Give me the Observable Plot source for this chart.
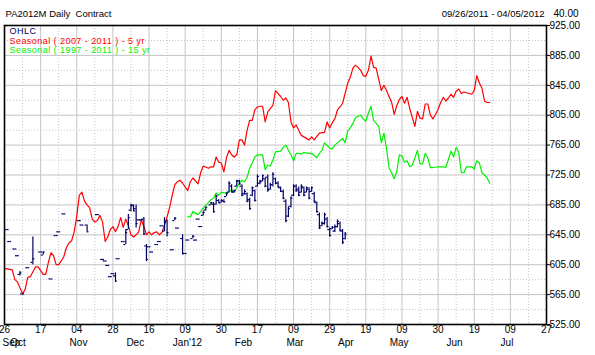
<!DOCTYPE html>
<html><head><meta charset="utf-8">
<script src="https://cdn.jsdelivr.net/npm/d3@7"></script>
<script src="https://cdn.jsdelivr.net/npm/@observablehq/plot@0.6"></script>
<style>
html,body{margin:0;padding:0;background:#fff;}
svg text{white-space:pre;}
</style>
</head><body><div id="chart"></div>
<script>
// ---- texts ----
const title = "PA2012M Daily  Contract";
const dateRange = "09/26/2011 - 04/05/2012";
const gridStepLabel = "40.00";
const legendLabels = ["OHLC", "Seasonal ( 2007 - 2011 ) - 5 yr", "Seasonal ( 1997 - 2011 ) - 15 yr"];

// ---- axes ----
const yTicks = [525, 565, 605, 645, 685, 725, 765, 805, 845, 885, 925];
const tickDays = [0, 14, 28, 42, 56, 70, 84, 98, 112, 126, 140, 154, 168, 182, 196, 210];
const tickLabels = ["26","17","04","28","16","09","30","17","09","29","19","09","30","19","09","27"];
const monthDays = [0, 3, 26, 48, 66, 90, 110, 130, 150, 172, 193];
const monthNames = ["Sep","Oct","Nov","Dec","Jan'12","Feb","Mar","Apr","May","Jun","Jul"];

// ---- series: [trading day index, value] ----
const seas5 = [[0,600],[3,598],[4,585],[5,582],[6,574],[7,566],[8,572],[9,588],[10,589],[12,602],[13,602],[14,597],[15,592],[16,592],[17,608],[18,621],[19,617],[20,605],[21,605],[22,610],[23,616],[24,628],[25,634],[26,637],[27,649],[28,670],[29,698],[30,702],[31,690],[32,685],[33,681],[34,666],[35,662],[36,664],[37,671],[38,662],[39,636],[40,642],[41,652],[42,656],[43,649],[44,656],[45,668],[46,655],[47,666],[48,657],[49,645],[50,642],[51,645],[52,649],[53,665],[54,656],[55,645],[56,649],[57,645],[58,648],[59,649],[60,645],[61,648],[62,658],[63,669],[64,682],[65,698],[66,712],[67,716],[68,718],[69,714],[71,704],[72,716],[73,721],[75,713],[76,728],[77,737],[79,734],[80,736],[81,736],[82,749],[83,742],[84,741],[85,729],[86,748],[87,758],[88,752],[89,749],[90,752],[91,772],[92,772],[93,765],[94,785],[95,798],[96,798],[97,812],[98,816],[99,817],[100,817],[101,796],[102,809],[103,814],[104,818],[105,838],[106,834],[107,830],[108,825],[109,828],[110,822],[111,796],[112,788],[113,792],[114,785],[115,778],[116,776],[117,774],[118,772],[119,776],[120,772],[122,781],[124,782],[125,796],[126,788],[127,795],[128,800],[129,812],[130,816],[131,821],[133,848],[134,856],[135,868],[136,872],[137,869],[138,865],[139,858],[140,857],[141,865],[142,884],[143,869],[144,868],[146,838],[147,845],[148,838],[150,822],[151,806],[152,818],[153,826],[154,830],[155,821],[156,829],[157,814],[158,802],[159,790],[160,810],[161,801],[162,800],[163,820],[164,820],[165,805],[166,800],[167,806],[168,813],[169,822],[170,829],[171,824],[172,828],[173,833],[174,829],[175,837],[176,840],[177,834],[178,836],[180,834],[181,833],[182,838],[183,858],[184,848],[185,841],[186,824],[187,822],[188,822]];

const seas15 = [[71,669],[72,669],[73,676],[75,672],[76,676],[77,681],[79,688],[80,692],[81,694],[82,701],[83,698],[84,702],[85,701],[86,701],[88,705],[89,702],[90,708],[91,714],[92,718],[93,716],[94,722],[95,734],[96,741],[97,749],[98,752],[100,752],[101,732],[102,738],[103,737],[104,745],[105,756],[107,757],[108,762],[109,765],[110,758],[111,752],[112,744],[113,754],[114,754],[115,753],[116,755],[118,754],[119,754],[121,748],[122,754],[123,758],[124,768],[126,761],[127,760],[128,765],[129,768],[131,774],[132,768],[133,784],[134,788],[135,794],[136,802],[138,805],[139,800],[140,797],[141,808],[142,817],[143,798],[145,790],[146,768],[147,781],[148,761],[149,734],[150,728],[151,720],[152,730],[153,752],[154,750],[155,742],[156,744],[157,736],[158,738],[160,758],[161,740],[162,740],[163,754],[164,748],[165,735],[166,735],[168,736],[170,736],[171,735],[173,757],[174,749],[175,762],[176,755],[177,728],[178,728],[179,736],[181,736],[182,733],[183,744],[184,741],[185,728],[186,725],[187,721],[188,714]];

// ---- OHLC: [day, open, high, low, close] ----
const ohlc = [
[1,652,652,652,652],[2,636,636,636,636],[4,626,626,626,626],[5,617,617,617,617],[6,592,596,590,594],
[7,566,566,566,566],[9,601,601,601,601],[11,608,642,605,613],[14,622,622,622,622],[15,618,622,618,622],
[18,586,586,586,586],[20,644,644,644,644],[21,649,649,649,649],[23,673,673,673,673],[29,664,664,664,664],
[30,658,658,658,658],[32,658,658,649,649],[36,672,672,672,672],[38,612,612,612,612],[39,610,610,610,610],
[40,604,604,604,604],[41,589,589,589,589],[42,593,593,593,593],[43,590,594,582,583],[44,613,613,613,613],
[46,636,636,636,636],[47,632,652,632,648],[48,652,672,652,668],[49,678,686,676,685],[50,684,685,676,677],
[51,680,685,654,660],[52,665,665,665,665],[53,665,665,665,665],[54,666,668,644,646],[55,630,632,609,612],
[56,629,629,629,629],[57,622,622,622,622],[59,632,632,632,632],[60,636,636,636,636],[61,657,657,657,657],
[62,650,668,649,662],[63,663,665,642,648],[65,625,625,625,625],[66,664,668,664,667],[67,654,654,654,654],
[69,640,645,618,620],[70,620,620,620,620],[71,638,638,638,638],[73,640,644,640,643],[74,638,638,638,638],
[75,666,666,666,666],[76,656,656,656,656],[77,671,676,670,675],[78,678,682,677,682],
[80,685,688,685,688],[81,686,688,674,676],[82,686,698,685,697],[83,691,692,688,688],[84,688,692,688,691],
[85,690,692,688,689],[86,696,701,696,700],[87,702,716,701,714],[88,710,712,701,703],[89,702,705,701,704],
[90,710,718,709,717],[91,717,718,712,713],[92,710,712,696,698],[93,700,705,698,703],[94,700,701,688,690],
[95,692,694,678,680],[96,698,709,696,708],[97,704,705,689,691],[98,710,725,709,723],[99,714,718,712,716],
[100,717,725,716,724],[101,720,721,708,710],[102,722,725,702,705],[103,706,714,705,712],[104,712,728,709,726],
[105,720,721,712,714],[106,714,716,708,709],[107,708,709,702,703],[108,703,705,692,694],[109,690,692,661,664],
[110,670,682,668,680],[111,683,696,681,694],[112,698,712,696,710],[113,710,712,702,704],[114,706,709,696,698],
[115,702,712,701,710],[116,708,709,696,698],[117,702,709,701,708],[118,706,708,692,694],[119,703,709,702,708],
[120,700,702,688,690],[121,688,689,674,676],[122,672,674,652,654],[123,657,662,656,661],[124,660,674,658,672],
[125,666,668,654,656],[126,652,654,642,644],[127,653,656,652,655],[128,650,658,648,656],[129,656,665,654,663],
[130,660,662,649,651],[131,650,652,632,635],[132,640,648,638,646]
];

// ---- build ----
const bars = ohlc.map(([day, open, high, low, close]) => ({day, open, high, low, close}));
const s5 = seas5.map(([day, v]) => ({day, v}));
const s15 = seas15.map(([day, v]) => ({day, v}));
const minorY = yTicks.slice(1).map((v, i) => (v + yTicks[i]) / 2);
const minorX = tickDays.slice(1).map((v, i) => (v + tickDays[i]) / 2);
const labelByDay = new Map(tickDays.map((d, i) => [d, tickLabels[i]]));
const months = monthNames.map((name, i) => ({name, day: monthDays[i]}));

const navy = "#000066";
const red = "#ff0000";
const green = "#00f000";
const gridColor = "#c4c4c4";
const font = "'Liberation Sans', Arial, sans-serif";

const legendStyle = {frameAnchor: "top-left", textAnchor: "start", lineAnchor: "bottom", dx: 5, fontSize: 9};

const chart = Plot.plot({
  width: 595,
  height: 355,
  marginLeft: 4,
  marginRight: 49,
  marginTop: 25,
  marginBottom: 31,
  x: {domain: [0, 210], axis: null, label: null},
  y: {domain: [525, 925], axis: null, label: null},
  style: {fontFamily: font, fontSize: "10px", background: "#fff", color: "#000", overflow: "visible"},
  marks: [
    Plot.gridY(minorY, {stroke: gridColor, strokeOpacity: 1, strokeDasharray: "1,2"}),
    Plot.gridX(minorX, {stroke: gridColor, strokeOpacity: 1, strokeDasharray: "1,2"}),
    Plot.gridY(yTicks, {stroke: gridColor, strokeOpacity: 1}),
    Plot.gridX(tickDays, {stroke: gridColor, strokeOpacity: 1}),
    Plot.line(s5, {x: "day", y: "v", stroke: red, strokeWidth: 1.2}),
    Plot.line(s15, {x: "day", y: "v", stroke: green, strokeWidth: 1.2}),
    Plot.ruleX(bars, {x: "day", y1: "low", y2: "high", stroke: navy, strokeWidth: 1.2}),
    Plot.ruleY(bars, {y: "open", x1: d => d.day - 0.75, x2: "day", stroke: navy, strokeWidth: 1.2}),
    Plot.ruleY(bars, {y: "close", x1: "day", x2: d => d.day + 0.75, stroke: navy, strokeWidth: 1.2}),
    Plot.frame({stroke: "#000", strokeWidth: 1.6}),
    Plot.axisY(yTicks, {anchor: "right", label: null, tickSize: 3, tickPadding: 0, tickFormat: d => d.toFixed(2), fontSize: 10, stroke: "#000"}),
    Plot.axisX(tickDays, {anchor: "bottom", label: null, tickSize: 0, tickPadding: 1, tickFormat: d => labelByDay.get(d), fontSize: 10}),
    Plot.text(months, {x: "day", text: "name", frameAnchor: "bottom", lineAnchor: "bottom", dy: 21.5, textAnchor: "start", dx: -2, fontSize: 10, fill: "#000"}),
    Plot.text([legendLabels[0]], {...legendStyle, text: d => d, dy: 8.5, fill: navy, letterSpacing: 0.5}),
    Plot.text([legendLabels[1]], {...legendStyle, text: d => d, dy: 18, fill: red, letterSpacing: 0.45}),
    Plot.text([legendLabels[2]], {...legendStyle, text: d => d, dy: 27.5, fill: green, letterSpacing: 0.45}),
    Plot.text([title], {text: d => d, frameAnchor: "top-left", textAnchor: "start", lineAnchor: "bottom", dx: 1, dy: -8.5, fill: "#000", fontSize: 9.5}),
    Plot.text([dateRange], {text: d => d, frameAnchor: "top-right", textAnchor: "end", lineAnchor: "bottom", dx: -2, dy: -8.5, fill: "#000", fontSize: 9.5}),
    Plot.text([gridStepLabel], {text: d => d, frameAnchor: "top-right", textAnchor: "start", lineAnchor: "bottom", dx: 7, dy: -8.5, fill: "#000", fontSize: 10})
  ]
});
// letter-spacing for the legend texts (bitmap-like wide font in the reference)
d3.select(chart).selectAll("text").each(function () {
  const t = this.textContent;
  if (legendLabels.includes(t)) this.setAttribute("letter-spacing", t === "OHLC" ? "0.5" : "0.45");
});
document.getElementById("chart").appendChild(chart);
</script>
</body></html>
